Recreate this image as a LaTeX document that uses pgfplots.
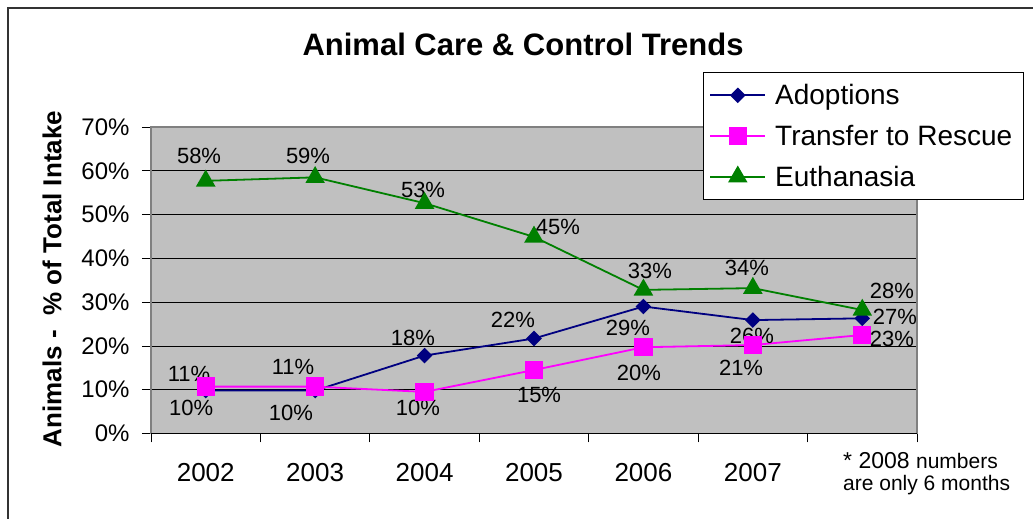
\documentclass[border=0pt]{standalone}
\usepackage{pgfplots}
\pgfplotsset{compat=1.18}
\usepackage{fontspec}
\setmainfont{Liberation Sans}
\definecolor{adopt}{HTML}{000080}
\definecolor{transf}{HTML}{FF00FF}
\definecolor{euth}{HTML}{008000}
\definecolor{plotbg}{HTML}{C0C0C0}
\definecolor{axgray}{HTML}{808080}
\newcommand{\lbl}{\fontsize{22bp}{26bp}\selectfont}
\begin{document}
\begin{tikzpicture}
\path[use as bounding box] (0,0) rectangle (1033bp,519bp);
\draw[line width=1.2bp, black!80] (8bp,-10bp) -- (8bp,511bp) -- (1045bp,511bp);
\node[font=\bfseries\fontsize{31bp}{36bp}\selectfont] at (523bp,475bp) {Animal Care \& Control Trends};
\node[font=\bfseries\fontsize{26bp}{31bp}\selectfont, rotate=90] at (52bp,240bp) {Animals -\ \ \% of Total Intake};
\node[anchor=west, inner sep=0pt] at (843bp,58bp) {\fontsize{23bp}{27bp}\selectfont * 2008 \fontsize{21bp}{25bp}\selectfont numbers};
\node[anchor=west, inner sep=0pt] at (843bp,34bp) {\fontsize{21bp}{25bp}\selectfont are only 6 months};
\begin{axis}[
  at={(151bp,85.5bp)}, anchor=south west,
  width=766bp, height=306.5bp, scale only axis,
  xmin=0, xmax=7, ymin=0, ymax=70,
  axis background/.style={fill=plotbg},
  axis line style={draw=axgray, line width=1.5bp},
  xtick={0.5,1.5,2.5,3.5,4.5,5.5},
  xticklabels={2002,2003,2004,2005,2006,2007},
  minor xtick={0,1,2,3,4,5,6,7},
  ytick={0,10,20,30,40,50,60,70},
  yticklabels={0\%,10\%,20\%,30\%,40\%,50\%,60\%,70\%},
  tick align=outside, tick pos=left,
  major tick length=9bp, minor tick length=9bp,
  major x tick style={draw=none},
  tick style={black, line width=0.8bp},
  ymajorgrids, major grid style={black, line width=0.8bp},
  xticklabel style={font=\fontsize{26bp}{31bp}\selectfont, yshift=-17bp},
  yticklabel style={font=\fontsize{24bp}{29bp}\selectfont, xshift=-9bp},
  legend style={at={(0.7206,1.1794)}, anchor=north west, draw=black, line width=0.8bp, fill=white,
    font=\fontsize{28bp}{33bp}\selectfont, row sep=15bp, column sep=4bp, inner xsep=6bp, inner ysep=10bp,
    nodes={inner xsep=5bp}, legend cell align=left},
  legend image code/.code={\draw[mark repeat=2,mark phase=2,#1] plot coordinates {(0bp,0bp) (27.5bp,0bp) (55bp,0bp)};},
  clip=false,
]
\addplot[adopt, line width=1.8bp, mark=square*, mark size=4.6bp, mark options={rotate=45, solid}] coordinates {
 (0.5,9.8) (1.5,9.8) (2.5,17.8) (3.5,21.7) (4.5,29.0) (5.5,25.9) (6.5,26.3)};
\addlegendentry{Adoptions}
\addplot[transf, line width=1.8bp, mark=square*, mark size=8.3bp] coordinates {
 (0.5,10.7) (1.5,10.7) (2.5,9.5) (3.5,14.5) (4.5,19.7) (5.5,20.2) (6.5,22.5)};
\addlegendentry{Transfer to Rescue}
\addplot[euth, line width=1.8bp, mark=triangle*, mark size=9.5bp] coordinates {
 (0.5,57.7) (1.5,58.5) (2.5,52.6) (3.5,44.9) (4.5,32.8) (5.5,33.2) (6.5,28.2)};
\addlegendentry{Euthanasia}
\draw[black, line width=1.2bp] (axis cs:0,0) -- (axis cs:7,0);
% data labels
\node[font=\lbl] at (axis cs:0.439,63.4) {58\%};
\node[font=\lbl] at (axis cs:1.435,63.4) {59\%};
\node[font=\lbl] at (axis cs:2.486,55.6) {53\%};
\node[font=\lbl] at (axis cs:3.719,47.2) {45\%};
\node[font=\lbl] at (axis cs:4.560,37.1) {33\%};
\node[font=\lbl] at (axis cs:5.446,37.8) {34\%};
\node[font=\lbl] at (axis cs:6.771,32.5) {28\%};
\node[font=\lbl] at (axis cs:0.366,5.8) {10\%};
\node[font=\lbl] at (axis cs:1.279,4.7) {10\%};
\node[font=\lbl] at (axis cs:2.394,21.8) {18\%};
\node[font=\lbl] at (axis cs:3.308,25.9) {22\%};
\node[font=\lbl] at (axis cs:4.359,24.1) {29\%};
\node[font=\lbl] at (axis cs:5.492,22.3) {26\%};
\node[font=\lbl] at (axis cs:6.799,26.6) {27\%};
\node[font=\lbl] at (axis cs:0.347,13.6) {11\%};
\node[font=\lbl] at (axis cs:1.298,15.2) {11\%};
\node[font=\lbl] at (axis cs:2.440,5.8) {10\%};
\node[font=\lbl] at (axis cs:3.546,8.8) {15\%};
\node[font=\lbl] at (axis cs:4.459,13.8) {20\%};
\node[font=\lbl] at (axis cs:5.392,15.0) {21\%};
\node[font=\lbl] at (axis cs:6.771,21.6) {23\%};
\end{axis}
\end{tikzpicture}
\end{document}
